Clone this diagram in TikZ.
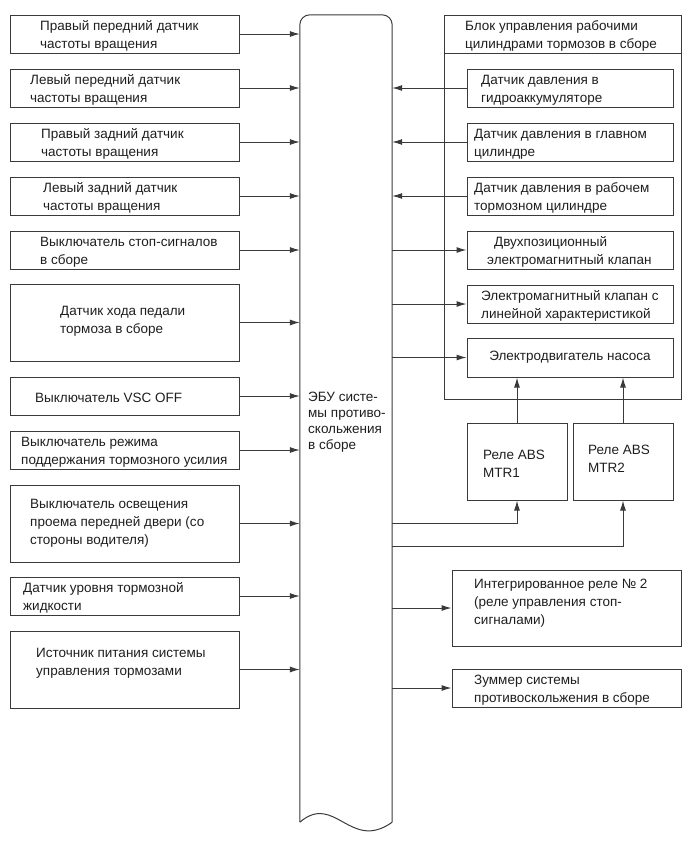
\documentclass[tikz,border=0pt]{standalone}
\usepackage{fontspec}
\setmainfont{Liberation Sans}
\usepackage{tikz}
\usetikzlibrary{arrows.meta,positioning,calc}
\definecolor{lineC}{HTML}{3A3A3A}
\definecolor{textC}{HTML}{1E1E1E}
\tikzset{
  unit/.style={rectangle, draw=lineC, line width=1pt, minimum width=#1, inner sep=0pt,
               font=\fontsize{13.5}{18}\selectfont, text=textC},
  txt/.style={anchor=west, align=left, inner sep=0pt, yshift=-2pt,
              font=\fontsize{13.5}{18}\selectfont, text=textC},
  outl/.style={draw=lineC, line width=1pt},
  arr/.style={-{Latex[length=10pt,width=6pt]}, line width=1pt, draw=lineC},
}
\begin{document}
\begin{tikzpicture}[x=1pt, y=-1pt]
\useasboundingbox (0,0) rectangle (689,860);
% inputs on the left
\node[unit=229, minimum height=38] (s1) at (124.5,34) {};
\node[txt] (s1t) at (40,34) {Правый передний датчик\\частоты вращения};
\node[unit=229, minimum height=38] (s2) at (124.5,88) {};
\node[txt] (s2t) at (30,88) {Левый передний датчик\\частоты вращения};
\node[unit=229, minimum height=38] (s3) at (124.5,142) {};
\node[txt] (s3t) at (41,142) {Правый задний датчик\\частоты вращения};
\node[unit=229, minimum height=38] (s4) at (124.5,196) {};
\node[txt] (s4t) at (43,196) {Левый задний датчик\\частоты вращения};
\node[unit=229, minimum height=38] (s5) at (124.5,250) {};
\node[txt] (s5t) at (40,250) {Выключатель стоп-сигналов\\в сборе};
\node[unit=229, minimum height=77] (s6) at (124.5,322.5) {};
\node[txt] (s6t) at (60,319) {Датчик хода педали\\тормоза в сборе};
\node[unit=229, minimum height=38] (s7) at (124.5,396) {};
\node[txt] (s7t) at (35,396) {Выключатель VSC OFF};
\node[unit=229, minimum height=38] (s8) at (124.5,450) {};
\node[txt] (s8t) at (21,450) {Выключатель режима\\поддержания тормозного усилия};
\node[unit=229, minimum height=77] (s9) at (124.5,523.5) {};
\node[txt] (s9t) at (30,521) {Выключатель освещения\\проема передней двери (со\\стороны водителя)};
\node[unit=229, minimum height=38] (s10) at (124.5,596) {};
\node[txt] (s10t) at (23,596) {Датчик уровня тормозной\\жидкости};
\node[unit=229, minimum height=77] (s11) at (124.5,669.5) {};
\node[txt] (s11t) at (36,661) {Источник питания системы\\управления тормозами};
% ECU
\node[inner sep=0pt, minimum width=92, minimum height=807] (ecu) at (346,418.5) {};
\node[txt, font=\fontsize{13.5}{16}\selectfont] (ecut) at (308,420) {ЭБУ систе-\\мы противо-\\скольжения\\в сборе};
\draw[outl, rounded corners=10pt] (ecu.south west) -- (ecu.north west) -- (ecu.north east) -- (ecu.south east);
\draw[outl] (ecu.south east) .. controls +(-42,30) and +(35,-30) .. (ecu.south west);
% brake actuator assembly
\node[unit=237, minimum height=384] (blk) at (562.5,207) {};
\draw[outl] (blk.west |- 0,53) -- (blk.east |- 0,53);
\node[txt] (blkt) at (465,34) {Блок управления рабочими\\цилиндрами тормозов в сборе};
\node[unit=206, minimum height=38] (p1) at (570,88) {};
\node[txt] (p1t) at (481,88) {Датчик давления в\\гидроаккумуляторе};
\node[unit=206, minimum height=38] (p2) at (570,142) {};
\node[txt] (p2t) at (474,142) {Датчик давления в главном\\цилиндре};
\node[unit=206, minimum height=38] (p3) at (570,196) {};
\node[txt] (p3t) at (474,196) {Датчик давления в рабочем\\тормозном цилиндре};
\node[unit=206, minimum height=38] (v1) at (570,250) {};
\node[txt] (v1t) at (487,250) {\hspace{7pt}Двухпозиционный\\электромагнитный клапан};
\node[unit=206, minimum height=38] (v2) at (570,304) {};
\node[txt] (v2t) at (481,304) {Электромагнитный клапан с\\линейной характеристикой};
\node[unit=206, minimum height=39] (pump) at (570,357.5) {Электродвигатель насоса};
% relays and outputs
\node[unit=100, minimum height=77] (r1) at (517,461.5) {};
\node[txt] (r1t) at (483,462) {Реле ABS\\MTR1};
\node[unit=100, minimum height=77] (r2) at (623,461.5) {};
\node[txt] (r2t) at (588,457) {Реле ABS\\MTR2};
\node[unit=229, minimum height=76] (rel2) at (566.5,608) {};
\node[txt] (rel2t) at (474,601) {Интегрированное реле № 2\\(реле управления стоп-\\сигналами)};
\node[unit=229, minimum height=38] (buz) at (566.5,688) {};
\node[txt] (buzt) at (474,688) {Зуммер системы\\противоскольжения в сборе};
% connectors
\foreach \i in {1,...,11}
  \draw[arr] (s\i.east) -- (s\i.east -| ecu.west);
\foreach \n in {p1,p2,p3}
  \draw[arr] (\n.west) -- (\n.west -| ecu.east);
\foreach \n in {v1,v2,pump,rel2,buz}
  \draw[arr] (\n.west -| ecu.east) -- (\n.west);
\draw[arr] (r1.north) -- (r1.north |- pump.south);
\draw[arr] (r2.north) -- (r2.north |- pump.south);
\draw[arr] (ecu.east |- 0,523) -| (r1.south);
\draw[arr] (ecu.east |- 0,546) -| (r2.south);
\end{tikzpicture}
\end{document}
